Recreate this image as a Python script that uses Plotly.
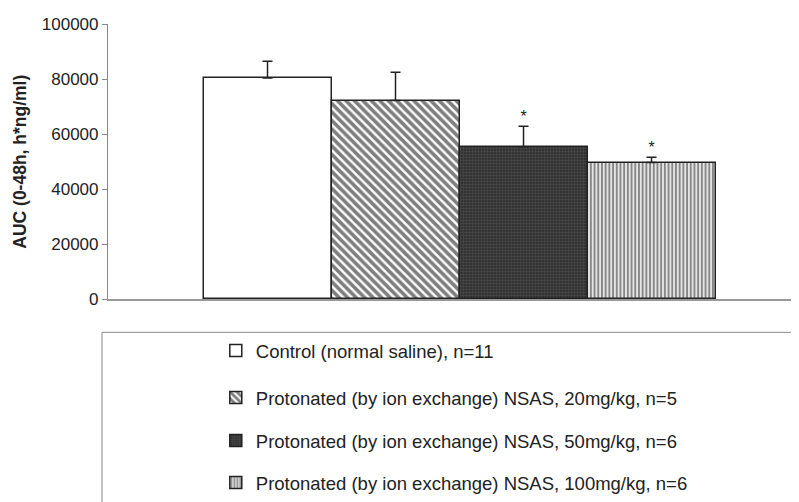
import plotly.graph_objects as go

groups = ["Control (normal saline), n=11",
          "Protonated (by ion exchange) NSAS, 20mg/kg, n=5",
          "Protonated (by ion exchange) NSAS, 50mg/kg, n=6",
          "Protonated (by ion exchange) NSAS, 100mg/kg, n=6"]
auc = [80400, 72200, 55400, 49700]
sd = [6100, 10300, 7500, 1900]
significant = [False, False, True, True]
yticks = [0, 20000, 40000, 60000, 80000, 100000]
ytick_labels = ["0", "20000", "40000", "60000", "80000", "100000"]

styles = [
    dict(color="white", pattern=None),
    dict(color="white", pattern=dict(shape="\\", fgcolor="#000000", bgcolor="white", size=6, solidity=0.6)),
    dict(color="#3c3c3c", pattern=dict(shape="+", fgcolor="#6a6a6a", bgcolor="#333333", size=3, solidity=0.3)),
    dict(color="white", pattern=dict(shape="|", fgcolor="#2a2a2a", bgcolor="#e4e4e4", size=3.7, solidity=0.5)),
]

FONT = "Liberation Sans, Arial, Helvetica, sans-serif"
# the page body adds an 8 px offset; the figure is sized to compensate
BODY = 8
PAGE_W, PAGE_H = 799, 502
PAPER_TOP = 24
legend_rows_px = [351, 398, 441, 484]

fig = go.Figure()
legend_ids = ["legend", "legend2", "legend3", "legend4"]
for i, (name, v, e) in enumerate(zip(groups, auc, sd)):
    st = styles[i]
    marker = dict(color=st["color"], line=dict(color="#222222", width=1.5))
    if st["pattern"] is not None:
        marker["pattern"] = st["pattern"]
    fig.add_trace(go.Bar(
        x=[i], y=[v], width=1, name=name, legend=legend_ids[i],
        marker=marker,
        error_y=dict(type="data", symmetric=False, array=[e], arrayminus=[0],
                     color="#222222", thickness=1.5, width=5),
    ))

star_x = [i for i, s in enumerate(significant) if s]
star_y = [auc[i] + sd[i] for i in star_x]
fig.add_trace(go.Scatter(x=star_x, y=star_y, mode="text", text=["*"] * len(star_x),
                         textposition="top center", showlegend=False,
                         textfont=dict(size=16, color="#222222", family=FONT)))

# legend frame (paper coords; paper spans page y 24..502 px)
fig.add_shape(type="rect", xref="paper", yref="paper",
              x0=-0.0087, x1=0.994, y0=0.3536, y1=-0.2,
              line=dict(color="#888888", width=1), fillcolor="rgba(0,0,0,0)", layer="below")

paper_h = PAGE_H - PAPER_TOP
legend_layout = {}
for lid, ypx in zip(legend_ids, legend_rows_px):
    legend_layout[lid] = dict(x=0.156, xanchor="left", y=(PAGE_H - ypx) / paper_h, yanchor="middle",
                              bgcolor="rgba(0,0,0,0)", borderwidth=0,
                              font=dict(size=18.5, family=FONT, color="#222222"),
                              itemwidth=30)

fig.update_layout(
    width=PAGE_W - BODY, height=PAGE_H - BODY,
    margin=dict(l=108 - BODY, r=0, t=PAPER_TOP - BODY, b=0),
    paper_bgcolor="white", plot_bgcolor="white",
    font=dict(family=FONT, size=16, color="#222222"),
    showlegend=True, bargap=0,
    xaxis=dict(range=[-1.246, 4.152], showticklabels=False, ticks="",
               showline=True, linecolor="#999999", linewidth=1.5,
               showgrid=False, zeroline=False, fixedrange=True),
    yaxis=dict(domain=[0.4226, 1], range=[0, 100000], tickvals=yticks,
               ticktext=ytick_labels, automargin=False,
               ticks="outside", ticklen=5, tickcolor="#888888",
               showline=True, linecolor="#888888", linewidth=1.2,
               showgrid=False, zeroline=False,
               tickfont=dict(size=17, family=FONT, color="#222222"),
               title=dict(text="<b>AUC (0-48h, h*ng/ml)</b>", standoff=10,
                          font=dict(size=17.5, family=FONT, color="#222222"))),
    **legend_layout,
)

fig.write_html("out.html")
